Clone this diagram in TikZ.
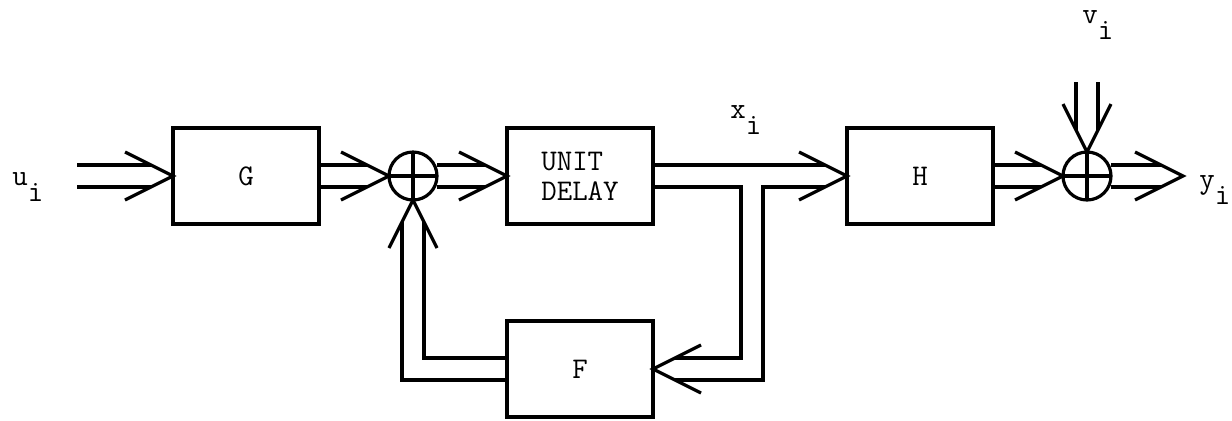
\documentclass[tikz,border=0pt]{standalone}
\usetikzlibrary{positioning,calc,backgrounds}

\begin{document}
\begin{tikzpicture}[
    x=0.5pt, y=-0.5pt,
    node distance=35pt,
    blk/.style={rectangle, draw, line width=2pt, minimum width=73pt, minimum height=48pt, inner sep=0pt, outer sep=0pt, font=\fontsize{15}{15}\selectfont\ttfamily},
    sumjn/.style={circle, draw, line width=1.6pt, minimum size=24pt, inner sep=0pt, outer sep=0pt,
        path picture={\draw[line width=1.6pt] (path picture bounding box.north) -- (path picture bounding box.south)
            (path picture bounding box.west) -- (path picture bounding box.east);}},
    vec/.style={double, double distance=9.4pt, line width=1.6pt, shorten >=11pt},
    tipv/.pic={\draw[line width=1.6pt] (-24pt,12pt) -- (0,0) -- (-24pt,-12pt);},
    lbl/.style={font=\fontsize{15}{15}\selectfont\ttfamily, inner sep=0pt, anchor=base west}
]
    \useasboundingbox (0,0) rectangle (1232,420);

    % blocks and summing points
    \node [blk] (g) at (246,176) {G};
    \node [sumjn, right=of g] (s1) {};
    \node [blk, right=of s1, align=left] (ud) {UNIT\\DELAY};
    \node [blk, right=97pt of ud] (h) {H};
    \node [sumjn, right=of h] (s2) {};
    \node [blk, below=48.5pt of ud] (f) {F};

    % free ends
    \coordinate (uin) at (77,176);
    \coordinate (vin) at (s2.north |- 0,82);
    \coordinate (yout) at (1183,176);
    \coordinate (br) at (752,185.4);

    % vector signals, behind the block borders
    \begin{scope}[on background layer]
        \draw [vec] (uin) -- (g.west);
        \draw [vec] (g.east) -- (s1.west);
        \draw [vec] (s1.east) -- (ud.west);
        \draw [vec] (ud.east) -- (h.west);
        \draw [vec] (br) |- (f.east);
        \draw [vec] (f.west) -| (s1.south);
        \draw [vec] (h.east) -- (s2.west);
        \draw [vec] (s2.east) -- (yout);
        \draw [vec] (vin) -- (s2.north);
    \end{scope}

    \foreach \p in {g.west, s1.west, ud.west, h.west, s2.west, yout}
        \pic at (\p) {tipv};
    \pic [rotate=180] at (f.east) {tipv};
    \pic [rotate=90] at (s1.south) {tipv};
    \pic [rotate=-90] at (s2.north) {tipv};

    % signal labels
    \node [lbl] (ulab) at (12,185) {u\raisebox{-8pt}{i}};
    \node [lbl] (xlab) at (730,118) {x\raisebox{-8pt}{i}};
    \node [lbl] (vlab) at (1082,23) {v\raisebox{-8pt}{i}};
    \node [lbl] (ylab) at (1199,188) {y\raisebox{-8pt}{i}};
\end{tikzpicture}
\end{document}
